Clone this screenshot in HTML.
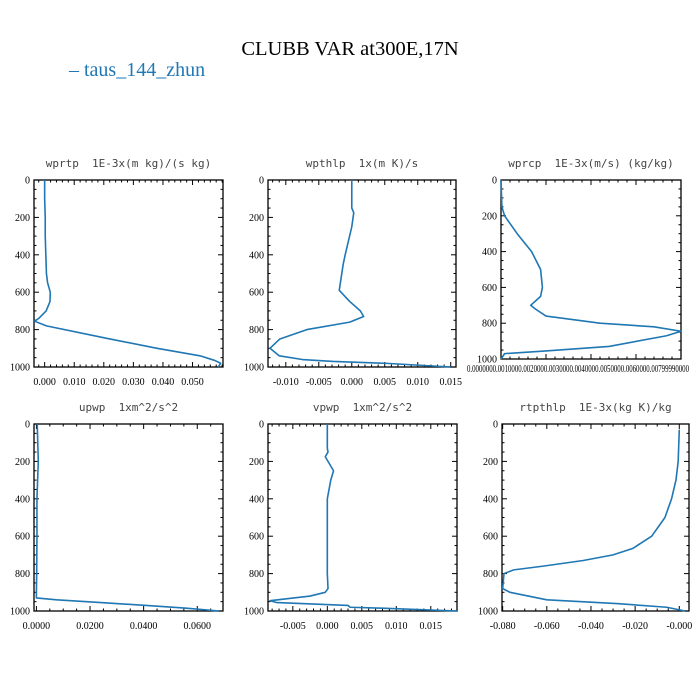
<!DOCTYPE html>
<html><head><meta charset="utf-8"><style>
html,body{margin:0;padding:0;background:#fff;}
svg{display:block;}
.tl{font-family:"Liberation Serif",serif;font-size:10px;fill:#000;}
.pt{font-family:"DejaVu Sans Mono","Liberation Mono",monospace;font-size:11px;fill:#444;white-space:pre;}
</style></head><body>
<svg id="chart" width="700" height="700" xmlns="http://www.w3.org/2000/svg">
<text x="350" y="55" text-anchor="middle" font-family="Liberation Serif, serif" font-size="20.5">CLUBB VAR at300E,17N</text>
<text x="69" y="76" font-family="Liberation Serif, serif" font-size="20" fill="#1f77b4">– taus_144_zhun</text>
</svg>
<script>
const pressure1=[0,100,200,300,400,500,550,600,650,700,740,755,780,850,900,940,965,980,1000];
const wprtp=[0,0,0.0002,0.0002,0.0004,0.0006,0.001,0.0019,0.0018,0.0005,-0.002,-0.0034,0.0006,0.022,0.038,0.0525,0.0575,0.0595,0.0587];
const pressure2=[0,150,175,250,400,450,590,650,700,730,760,800,850,900,940,960,970,980,1000];
const wpthlp=[0,0,0.0003,0,-0.001,-0.0013,-0.0019,-0.0003,0.0013,0.0018,-0.0003,-0.0068,-0.0109,-0.0124,-0.011,-0.0075,-0.0028,0.005,0.015];
const pressure3=[0,150,200,300,400,500,600,650,700,720,760,800,820,845,870,930,955,970,1000];
const wprcp=[0,0.005,0.02,0.09,0.17,0.22,0.23,0.22,0.165,0.19,0.25,0.55,0.85,1.0,0.92,0.6,0.25,0.02,0];
const pressure4=[0,200,400,600,800,900,930,940,955,970,985,1000];
const upwp=[0.0003,0.0007,0.0002,0.0002,0.0001,0,0,0.0075,0.024,0.041,0.056,0.068];
const pressure5=[0,130,150,175,200,250,300,400,800,880,900,920,945,955,970,980,985,1000];
const vpwp=[0,0,0.0001,-0.0003,0.0001,0.0009,0.0005,0,0,0.0001,-0.0003,-0.0025,-0.0083,-0.0073,0.003,0.0033,0.008,0.0188];
const pressure6=[30,200,300,400,500,600,665,700,730,760,780,800,880,900,940,960,980,1000];
const rtpthlp=[0,-0.0005,-0.0015,-0.0035,-0.0065,-0.0125,-0.021,-0.03,-0.0435,-0.0616,-0.075,-0.0794,-0.08,-0.0767,-0.06,-0.0284,-0.0057,0.0026];
const yTicks=[0,200,400,600,800,1000];
const ticks1=["0.000","0.010","0.020","0.030","0.040","0.050"];
const ticks2=["-0.010","-0.005","0.000","0.005","0.010","0.015"];
const ticks4=["0.0000","0.0200","0.0400","0.0600"];
const ticks5=["-0.005","0.000","0.005","0.010","0.015"];
const ticks6=["-0.080","-0.060","-0.040","-0.020","-0.000"];

const NS="http://www.w3.org/2000/svg";
const svg=document.getElementById('chart');
function mk(t,a,p){const e=document.createElementNS(NS,t);for(const k in a)e.setAttribute(k,a[k]);(p||svg).appendChild(e);return e;}

const panels=[
 {name:'wprtp',title:'wprtp  1E-3x(m kg)/(s kg)',x0:34,x1:223,y0:180,y1:367,d0:-0.0036,d1:0.0603,ticks:ticks1,minor:0.002,p:pressure1,v:wprtp},
 {name:'wpthlp',title:'wpthlp  1x(m K)/s',x0:268,x1:456,y0:180,y1:367,d0:-0.0127,d1:0.0158,ticks:ticks2,minor:0.001,p:pressure2,v:wpthlp},
 {name:'wprcp',title:'wprcp  1E-3x(m/s) (kg/kg)',x0:501,x1:681,y0:180,y1:359,d0:0,d1:1.0,ticks:null,minor:0.05,p:pressure3,v:wprcp},
 {name:'upwp',title:'upwp  1xm^2/s^2',x0:34,x1:223,y0:424,y1:611,d0:-0.0009,d1:0.0696,ticks:ticks4,minor:0.005,p:pressure4,v:upwp},
 {name:'vpwp',title:'vpwp  1xm^2/s^2',x0:268,x1:457,y0:424,y1:611,d0:-0.0086,d1:0.0188,ticks:ticks5,minor:0.001,p:pressure5,v:vpwp},
 {name:'rtpthlp',title:'rtpthlp  1E-3x(kg K)/kg',x0:502,x1:689,y0:424,y1:611,d0:-0.0803,d1:0.0044,ticks:ticks6,minor:0.005,p:pressure6,v:rtpthlp}
];

panels.forEach(P=>{
 const g=mk('g',{});
 
 
 const xs=v=>P.x0+(v-P.d0)/(P.d1-P.d0)*(P.x1-P.x0);
 const ys=p=>P.y0+p/1000*(P.y1-P.y0);
 const t=mk('text',{x:(P.x0+P.x1)/2,y:P.y0-13,'text-anchor':'middle',class:'pt'},g);
 t.setAttributeNS('http://www.w3.org/XML/1998/namespace','xml:space','preserve');
 t.textContent=P.title;
 
 
 for(let p=0;p<=1000;p+=50){
  const major=p%200===0, L=major?5:2.5;
  mk('line',{x1:P.x0,x2:P.x0+L,y1:ys(p),y2:ys(p),stroke:'#000','stroke-width':1},g);
  mk('line',{x1:P.x1,x2:P.x1-L,y1:ys(p),y2:ys(p),stroke:'#000','stroke-width':1},g);
 }
 yTicks.forEach(p=>{
  const l=mk('text',{x:P.x0-4,y:ys(p)+3.5,'text-anchor':'end',class:'tl'},g);
  l.textContent=String(p);
  
  
 });
 const start=Math.ceil(P.d0/P.minor-1e-6);
 for(let i=start;i*P.minor<=P.d1+1e-9;i++){
  const v=i*P.minor;
  const isMajor=P.ticks?P.ticks.some(s=>Math.abs(parseFloat(s)-v)<1e-9):(i%5===0);
  const L=isMajor?5:2.5, x=xs(v);
  mk('line',{x1:x,x2:x,y1:P.y1,y2:P.y1-L,stroke:'#000','stroke-width':1},g);
  mk('line',{x1:x,x2:x,y1:P.y0,y2:P.y0+L,stroke:'#000','stroke-width':1},g);
 }
 if(P.ticks){
  P.ticks.forEach(s=>{
   const l=mk('text',{x:xs(parseFloat(s)),y:P.y1+18,'text-anchor':'middle',class:'tl'},g);
   l.textContent=s;
   
   
  });
 } else {
  const l=mk('text',{x:P.x0-34,y:P.y1+13,class:'tl',textLength:222,lengthAdjust:'spacingAndGlyphs'},g);
  l.textContent='0.0000000.0010000.0020000.0030000.0040000.0050000.0060000.00799990000';
  
  
 }
 mk('rect',{x:P.x0,y:P.y0,width:P.x1-P.x0,height:P.y1-P.y0,fill:'none',stroke:'#000','stroke-width':1.3},g);
 const d=P.p.map((p,i)=>(i?'L':'M')+xs(P.v[i]).toFixed(2)+','+ys(p).toFixed(2)).join(' ');
 const path=mk('path',{d:d,fill:'none',stroke:'#1f77b4','stroke-width':1.6,'stroke-linejoin':'round'},g);
 
 
});
</script>
</body></html>
